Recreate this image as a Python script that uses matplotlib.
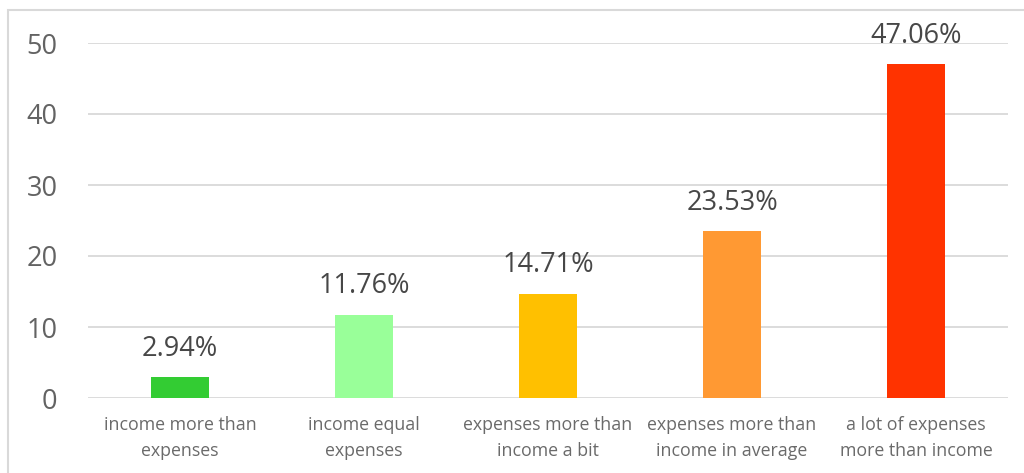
import matplotlib.pyplot as plt
from matplotlib.patches import Rectangle

categories = ["income more than\nexpenses", "income equal\nexpenses",
              "expenses more than\nincome a bit", "expenses more than\nincome in average",
              "a lot of expenses\nmore than income"]
values = [2.94, 11.76, 14.71, 23.53, 47.06]
colors = ["#33CC33", "#99FF99", "#FFC000", "#FF9933", "#FF3300"]
yticks = [0, 10, 20, 30, 40, 50]

plt.rcParams['font.family'] = ['Open Sans', 'DejaVu Sans']

fig = plt.figure(figsize=(10.24, 4.73), dpi=100)
ax = fig.add_axes([88 / 1024, 1 - 398 / 473, 920 / 1024, 355 / 473])

x = range(len(values))
ax.bar(x, values, width=0.315, color=colors, zorder=3)
for i, v in enumerate(values):
    ax.text(i, v + 2.0, f"{v:.2f}%", ha='center', va='bottom',
            fontsize=19.5, color='#474747', clip_on=False, zorder=4)

ax.set_xlim(-0.5, len(values) - 0.5)
ax.set_ylim(0, 50)
ax.set_yticks(yticks)
ax.set_xticks(list(x))
ax.set_xticklabels(categories, fontsize=12.8, color='#6a6a6a', linespacing=1.6)
ax.tick_params(axis='y', labelsize=19.5, labelcolor='#636363', length=0, pad=22)
ax.tick_params(axis='x', length=0, pad=13)
ax.grid(axis='y', color='#d9d9d9', linewidth=1.3, zorder=0)
for s in ax.spines.values():
    s.set_visible(False)

# light outer frame of the chart area
fig.patches.append(Rectangle((8 / 1024, -0.1), 1.2, 1 - 10 / 473 + 0.1,
                             transform=fig.transFigure, fill=False,
                             edgecolor='#d9d9d9', linewidth=1.5))

fig.savefig("out.png", dpi=100)
